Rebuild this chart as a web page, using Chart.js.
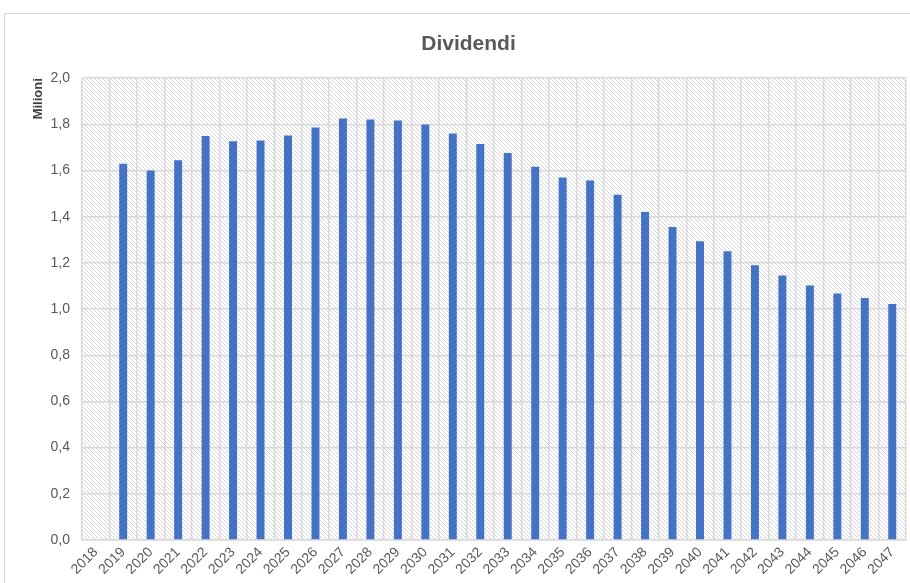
<!DOCTYPE html>
<html>
<head>
<meta charset="utf-8">
<script src="https://cdn.jsdelivr.net/npm/chart.js@4.4.1/dist/chart.umd.min.js"></script>
<style>
  html, body { margin: 0; padding: 0; background: #ffffff; overflow: hidden; }
  #frame { position: absolute; left: 4px; top: 13px; width: 1000px; height: 1000px; border: 1px solid #d9d9d9; box-sizing: border-box; }
  #wrap { position: absolute; left: 0; top: 0; width: 910px; height: 583px; }
</style>
</head>
<body>
<div id="frame"></div>
<div id="wrap"><canvas id="c" width="910" height="583"></canvas></div>
<script>
const categories = ['2018','2019','2020','2021','2022','2023','2024','2025','2026','2027',
  '2028','2029','2030','2031','2032','2033','2034','2035','2036','2037',
  '2038','2039','2040','2041','2042','2043','2044','2045','2046','2047'];
const dividendi = [null, 1.63, 1.60, 1.645, 1.75, 1.727, 1.73, 1.752, 1.786, 1.825,
  1.821, 1.817, 1.80, 1.761, 1.715, 1.676, 1.617, 1.570, 1.557, 1.495,
  1.420, 1.356, 1.294, 1.251, 1.190, 1.145, 1.102, 1.068, 1.048, 1.022];
const yTicks = [0, 0.2, 0.4, 0.6, 0.8, 1.0, 1.2, 1.4, 1.6, 1.8, 2.0];

const FONT = '"Liberation Sans Narrow", "Arial Narrow", "Liberation Sans", sans-serif';

function makePattern(ctx) {
  const t = document.createElement('canvas');
  t.width = 4; t.height = 4;
  const g = t.getContext('2d');
  g.fillStyle = '#ffffff';
  g.fillRect(0, 0, 4, 4);
  g.strokeStyle = '#d6d6d6';
  g.lineWidth = 1;
  g.beginPath();
  g.moveTo(-1, -1); g.lineTo(5, 5);
  g.moveTo(-1, 3); g.lineTo(1, 5);
  g.moveTo(3, -1); g.lineTo(5, 1);
  g.stroke();
  return ctx.createPattern(t, 'repeat');
}

const hatchPlugin = {
  id: 'hatch',
  beforeDraw(chart) {
    const { ctx, chartArea: a } = chart;
    ctx.save();
    ctx.fillStyle = makePattern(ctx);
    ctx.fillRect(a.left, a.top, a.right - a.left, a.bottom - a.top);
    ctx.restore();
  }
};

new Chart(document.getElementById('c'), {
  type: 'bar',
  data: {
    labels: categories,
    datasets: [{
      label: 'Dividendi',
      data: dividendi,
      backgroundColor: '#4472C4',
      borderWidth: 0,
      barPercentage: 0.29,
      categoryPercentage: 1.0
    }]
  },
  options: {
    responsive: false,
    animation: false,
    devicePixelRatio: 1,
    layout: { padding: { left: 31, right: 4, top: 0, bottom: 0 } },
    plugins: {
      legend: { display: false },
      tooltip: { enabled: false },
      title: {
        display: true,
        text: 'Dividendi',
        color: '#595959',
        font: { family: FONT, size: 21, weight: 'bold', lineHeight: 1.2 },
        padding: { top: 32, bottom: 21 }
      }
    },
    scales: {
      x: {
        grid: { color: '#d9d9d9', lineWidth: 1.5, drawTicks: false, offset: true },
        border: { color: '#d9d9d9', width: 1.5 },
        ticks: {
          color: '#595959',
          font: { family: FONT, size: 14 },
          maxRotation: 45, minRotation: 45,
          autoSkip: false,
          padding: 4
        },
        afterFit(scale) { scale.height = 43; }
      },
      y: {
        min: 0, max: 2.0,
        afterBuildTicks(scale) { scale.ticks = yTicks.map(v => ({ value: v })); },
        grid: { color: '#d9d9d9', lineWidth: 1.5, drawTicks: false },
        border: { display: false },
        ticks: {
          color: '#595959',
          font: { family: FONT, size: 14 },
          padding: 12,
          callback: v => Number(v).toFixed(1).replace('.', ',')
        },
        title: {
          display: true,
          text: 'Milioni',
          align: 'end',
          color: '#404040',
          font: { family: FONT, size: 13, weight: 'bold' },
          padding: { top: 0, bottom: 0 }
        },
        afterFit(scale) { scale.width = 51; }
      }
    }
  },
  plugins: [hatchPlugin]
});
</script>
</body>
</html>
